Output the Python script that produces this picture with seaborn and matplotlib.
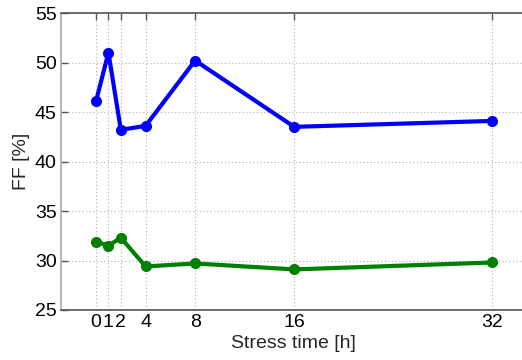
import numpy as np
import pandas as pd
import matplotlib
matplotlib.use("Agg")
import matplotlib.pyplot as plt
import seaborn as sns

stress_time = [0, 1, 2, 4, 8, 16, 32]
ff_upper = [46.1, 51.0, 43.2, 43.6, 50.2, 43.5, 44.1]
ff_lower = [31.9, 31.5, 32.3, 29.4, 29.7, 29.1, 29.8]
x_ticks = [0, 1, 2, 4, 8, 16, 32]
y_ticks = [25, 30, 35, 40, 45, 50, 55]

df = pd.DataFrame({
    "t": stress_time * 2,
    "ff": ff_upper + ff_lower,
    "series": ["upper"] * len(stress_time) + ["lower"] * len(stress_time),
})

sns.set_style("white")
plt.rcParams["font.family"] = ["Liberation Sans", "DejaVu Sans"]

W, H = 522, 360
fig = plt.figure(figsize=(W / 100, H / 100), dpi=100)
# axes box in pixels: left 61, top 13, bottom 310; extends past the right edge
x0, x1 = -2.83, 35.5
px_per_unit = 12.385
left_px = 61
right_px = left_px + (x1 - x0) * px_per_unit
ax_w_px = right_px - left_px
ax = fig.add_axes([left_px / W, (H - 310) / H, ax_w_px / W, (310 - 13) / H])

sns.lineplot(data=df, x="t", y="ff", hue="series",
             palette={"upper": "#0000ff", "lower": "#008000"},
             marker="o", markersize=8, markeredgewidth=0, linewidth=3,
             legend=False, ax=ax)

ax.set_xlim(x0, x1)
ax.set_ylim(25, 55)
ax.set_xticks(x_ticks)
ax.set_xticklabels([str(v) for v in x_ticks])
ax.set_yticks(y_ticks)
ax.set_yticklabels([str(v) for v in y_ticks])
ax.grid(True, color="#b0b0b0", linestyle=(0, (1, 2.2)), linewidth=0.8)
ax.set_axisbelow(True)

for side in ["top", "bottom"]:
    ax.spines[side].set_color("#555555")
    ax.spines[side].set_linewidth(1.2)
ax.spines["left"].set_color("#aaaaaa")
ax.spines["left"].set_linewidth(1.2)
ax.spines["right"].set_visible(False)

ax.tick_params(axis="both", direction="in", length=5, width=1, color="#555555",
               labelsize=14, labelcolor="black", pad=3)
ax.tick_params(axis="x", top=True)
ax.tick_params(axis="y", left=True, right=False)

ax.set_xlabel("Stress time [h]", fontsize=14)
ax.set_ylabel("FF [%]", fontsize=14)
# place axis titles at fixed pixel spots
ax.xaxis.set_label_coords((293.5 - left_px) / ax_w_px, -(343 - 310) / (310 - 13))
ax.xaxis.label.set_va("center")
ax.yaxis.set_label_coords(-(61 - 22) / ax_w_px, 0.5)
ax.yaxis.label.set_va("center")

fig.savefig("out.png", dpi=100)
